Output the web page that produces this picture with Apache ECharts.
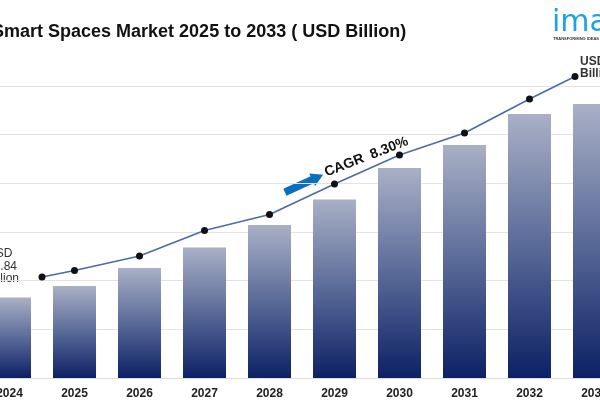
<!DOCTYPE html>
<html>
<head>
<meta charset="utf-8">
<script src="https://cdn.jsdelivr.net/npm/echarts@6/dist/echarts.min.js"></script>
<style>
html,body{margin:0;padding:0;background:#fff;overflow:hidden;width:600px;height:400px}
#c{position:absolute;left:-23px;top:0;width:650px;height:400px}
</style>
</head>
<body>
<div id="c"></div>
<script>
// ---- data ----
const years = ['2024','2025','2026','2027','2028','2029','2030','2031','2032','2033'];
const barValues = [8.27, 9.45, 11.30, 13.41, 15.72, 18.34, 21.58, 23.94, 27.12, 28.15];
// trend line: positions measured in category units (0 = 2024 ... 9 = 2033)
const linePos = [0.5, 1, 2, 3, 4, 5, 6, 7, 8, 8.7];
const lineValues = [10.38, 11.05, 12.53, 15.15, 16.80, 19.93, 22.91, 25.17, 28.67, 30.98];
const titleText = 'Smart Spaces Market 2025 to 2033 ( USD Billion)';
const startLabel = 'USD\n15.84\nBillion';
const endLabel = 'USD\nBillion';
const cagrText = 'CAGR  8.30%';

// the canvas is 650px wide and shifted 23px left, so the chart is cropped like the reference
const OX = 23;
const chart = echarts.init(document.getElementById('c'), null, {renderer:'canvas'});
const option = {
  animation: false,
  backgroundColor: '#ffffff',
  title: {
    text: titleText, left: OX - 8, top: 23, padding: 0,
    textStyle: {fontFamily: 'Liberation Sans', fontSize: 18, fontWeight: 'bold', color: '#111'}
  },
  grid: {left: 0, right: 0, top: 86, bottom: 22, containLabel: false},
  xAxis: [{
    type: 'category', data: years,
    axisTick: {show: false},
    axisLine: {lineStyle: {color: '#dcdcdc'}},
    axisLabel: {fontFamily: 'Liberation Sans', fontWeight: 'bold', fontSize: 12, color: '#222', margin: 10}
  }, {
    type: 'value', min: -0.5, max: 9.5, show: false
  }],
  yAxis: {
    type: 'value', min: 0, max: 30, interval: 5,
    axisLabel: {show: false}, axisLine: {show: false}, axisTick: {show: false},
    splitLine: {lineStyle: {color: '#e3e3e3', width: 1}}
  },
  series: [{
    type: 'bar', xAxisIndex: 0, data: barValues, barWidth: 43,
    itemStyle: {
      color: new echarts.graphic.LinearGradient(0, 0, 0, 1, [
        {offset: 0, color: '#a9b0c6'},
        {offset: 0.5, color: '#5a6a98'},
        {offset: 1, color: '#0c2165'}
      ])
    }
  }, {
    type: 'line', xAxisIndex: 1, clip: false, z: 5,
    data: linePos.map((p, i) => [p, lineValues[i]]),
    symbol: 'circle', symbolSize: 7,
    itemStyle: {color: '#111'},
    lineStyle: {color: '#4d6aa8', width: 1.6}
  }],
  graphic: [
    {type: 'text', x: OX + 552, y: 38, style: {text: 'imarc', font: '30px DejaVu Sans', fill: '#1ca4e2', textAlign: 'left', textVerticalAlign: 'bottom'}},
    {type: 'text', x: OX + 553, y: 39, style: {text: 'TRANSFORMING IDEAS INTO IMPACT', font: 'bold 4px Liberation Sans', fill: '#333', textAlign: 'left', textVerticalAlign: 'middle'}},
    {type: 'text', x: OX - 13, y: 285, style: {text: startLabel, font: '12px Liberation Sans', fill: '#333', textAlign: 'left', textVerticalAlign: 'bottom', lineHeight: 12.5}},
    {type: 'text', x: OX + 580, y: 80, style: {text: endLabel, font: 'bold 12px Liberation Sans', fill: '#333', textAlign: 'left', textVerticalAlign: 'bottom', lineHeight: 12.5}},
    {type: 'polygon', x: OX + 304, y: 183.5, rotation: 0.43,
     shape: {points: [[-21,-3.8],[9,-3.8],[9,-7],[21,0],[9,7],[9,3.8],[-21,3.8]]},
     style: {fill: '#0b6fbf'}},
    {type: 'text', x: OX + 325, y: 173, rotation: 0.37,
     style: {text: cagrText, font: 'bold 14px Liberation Sans', fill: '#111', textAlign: 'left', textVerticalAlign: 'middle'}}
  ]
};
chart.setOption(option);
</script>
</body>
</html>
